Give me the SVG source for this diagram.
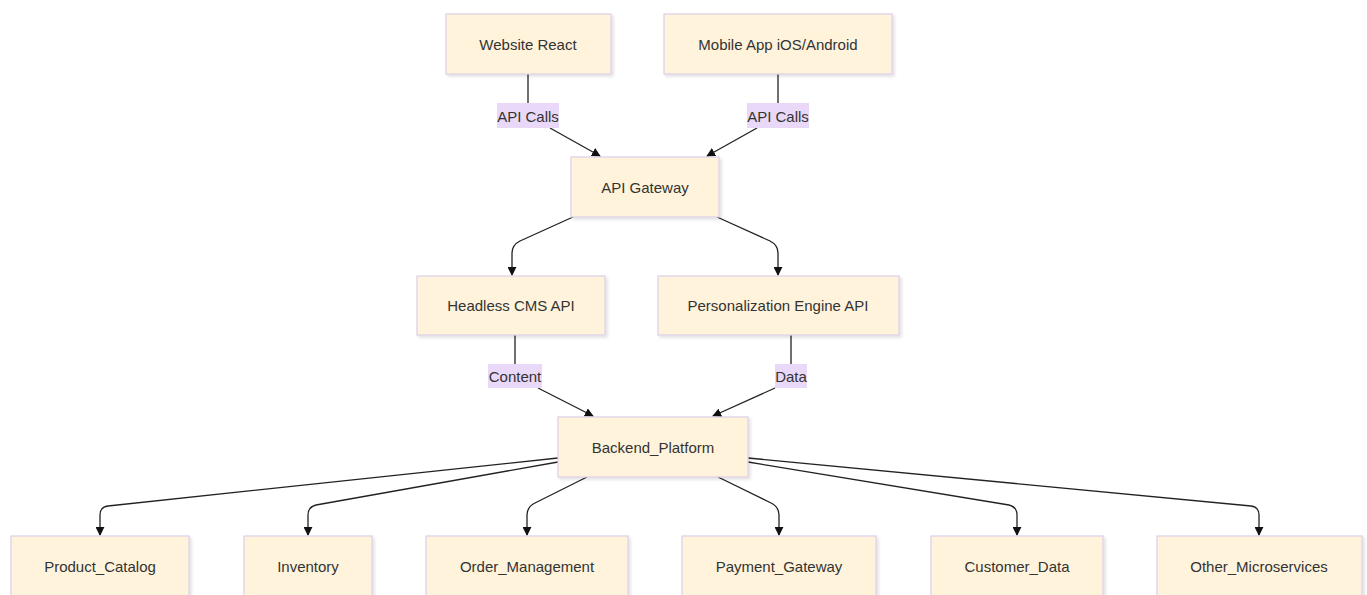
<svg xmlns="http://www.w3.org/2000/svg" width="1367" height="595" viewBox="0 0 1367 595">
<style>
.node rect{fill:#fff3dc;stroke:#dccfe8;stroke-width:1.2}
.node text,.lbl text{font-family:"Liberation Sans",Arial,sans-serif;font-size:15px;fill:#333;text-anchor:middle;dominant-baseline:central}
.edge{fill:none;stroke:#222;stroke-width:1.3}
.lbl rect{fill:#ead8f8}
</style>
<defs>
<marker id="arr" viewBox="0 0 10 10" refX="9" refY="5" markerWidth="9" markerHeight="9" orient="auto-start-reverse" markerUnits="userSpaceOnUse">
<path d="M0,0 L10,5 L0,10 z" fill="#111"/>
</marker>
<filter id="sh" x="-10%" y="-10%" width="130%" height="130%">
<feDropShadow dx="2" dy="2" stdDeviation="1.5" flood-color="#000" flood-opacity="0.12"/>
</filter>
</defs>
<rect width="1367" height="595" fill="#fff"/>
<g id="connectors">
<path class="edge" d="M528,74 V103"/>
<path class="edge" d="M550,128 L600,156" marker-end="url(#arr)"/>
<path class="edge" d="M778,74 V103"/>
<path class="edge" d="M757,128 L707,156" marker-end="url(#arr)"/>
<path class="edge" d="M573,217 L520,241 Q512,245 512,253 V275" marker-end="url(#arr)"/>
<path class="edge" d="M717,217 L770,241 Q778,245 778,253 V275" marker-end="url(#arr)"/>
<path class="edge" d="M515,335 V364"/>
<path class="edge" d="M538,388 L593,416" marker-end="url(#arr)"/>
<path class="edge" d="M791,335 V364"/>
<path class="edge" d="M775,388 L713,416" marker-end="url(#arr)"/>
<path class="edge" d="M558,458 L108,506 Q100,507 100,515 V535" marker-end="url(#arr)"/>
<path class="edge" d="M558,462 L316,505 Q308,507 308,515 V535" marker-end="url(#arr)"/>
<path class="edge" d="M587,477 L535,503 Q527,507 527,515 V535" marker-end="url(#arr)"/>
<path class="edge" d="M718,477 L771,503 Q779,507 779,515 V535" marker-end="url(#arr)"/>
<path class="edge" d="M748,462 L1009,505 Q1017,507 1017,515 V535" marker-end="url(#arr)"/>
<path class="edge" d="M748,458 L1251,506 Q1259,507 1259,515 V535" marker-end="url(#arr)"/>
</g>
<g id="labels">
<g class="lbl"><rect x="497" y="103" width="62" height="25"/><text x="528" y="116">API Calls</text></g>
<g class="lbl"><rect x="747" y="103" width="62" height="25"/><text x="778" y="116">API Calls</text></g>
<g class="lbl"><rect x="488" y="364" width="54" height="24"/><text x="515" y="376">Content</text></g>
<g class="lbl"><rect x="775" y="364" width="32" height="24"/><text x="791" y="376">Data</text></g>
</g>
<g id="website" class="node"><rect x="446" y="14" width="165" height="60" filter="url(#sh)"/><text x="528" y="44">Website React</text></g>
<g id="mobile" class="node"><rect x="664" y="14" width="228" height="60" filter="url(#sh)"/><text x="778" y="44">Mobile App iOS/Android</text></g>
<g id="gateway" class="node"><rect x="571" y="157" width="148" height="60" filter="url(#sh)"/><text x="645" y="187">API Gateway</text></g>
<g id="cms" class="node"><rect x="417" y="276" width="188" height="59" filter="url(#sh)"/><text x="511" y="305">Headless CMS API</text></g>
<g id="personalization" class="node"><rect x="658" y="276" width="241" height="59" filter="url(#sh)"/><text x="778" y="305">Personalization Engine API</text></g>
<g id="backend" class="node"><rect x="558" y="417" width="190" height="60" filter="url(#sh)"/><text x="653" y="447">Backend_Platform</text></g>
<g id="catalog" class="node"><rect x="11" y="536" width="178" height="60" filter="url(#sh)"/><text x="100" y="566">Product_Catalog</text></g>
<g id="inventory" class="node"><rect x="244" y="536" width="128" height="60" filter="url(#sh)"/><text x="308" y="566">Inventory</text></g>
<g id="orders" class="node"><rect x="426" y="536" width="202" height="60" filter="url(#sh)"/><text x="527" y="566">Order_Management</text></g>
<g id="payment" class="node"><rect x="682" y="536" width="194" height="60" filter="url(#sh)"/><text x="779" y="566">Payment_Gateway</text></g>
<g id="customer" class="node"><rect x="931" y="536" width="172" height="60" filter="url(#sh)"/><text x="1017" y="566">Customer_Data</text></g>
<g id="other" class="node"><rect x="1157" y="536" width="205" height="60" filter="url(#sh)"/><text x="1259" y="566">Other_Microservices</text></g>
</svg>
